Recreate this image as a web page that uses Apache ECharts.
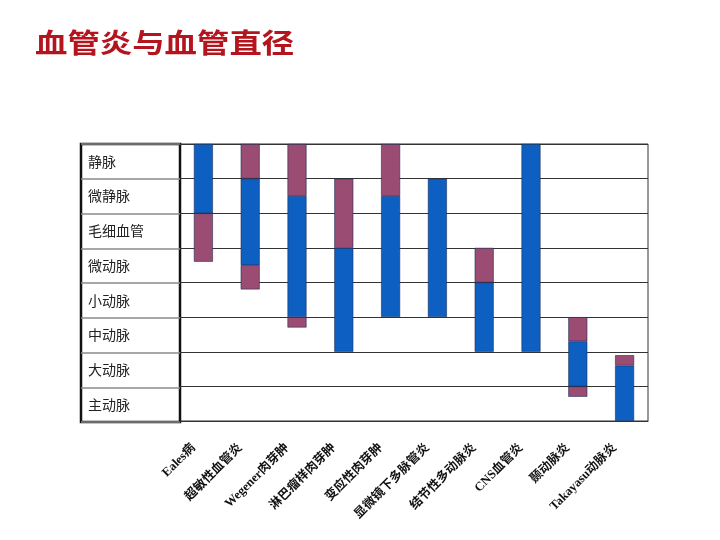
<!DOCTYPE html>
<html>
<head>
<meta charset="utf-8">
<script src="https://cdn.jsdelivr.net/npm/echarts@6/dist/echarts.min.js"></script>
<style>html,body{margin:0;padding:0;background:#fff}#c{width:720px;height:540px}</style>
</head>
<body>
<div id="c"></div>
<script>
const titleText = '血管炎与血管直径';
const categories = ['Eales病','超敏性血管炎','Wegener肉芽肿','淋巴瘤样肉芽肿','变应性肉芽肿','显微镜下多脉管炎','结节性多动脉炎','CNS血管炎','颞动脉炎','Takayasu动脉炎'];
const vesselLabels = ['主动脉','大动脉','中动脉','小动脉','微动脉','毛细血管','微静脉','静脉'];
// vessel level scale: 0 = bottom of 主动脉, 8 = top of 静脉
const purpleBelowLow = [4.6, 3.8, 2.7, 2, 3, 3, 2, 2, 0.7, 0];
const blueLow        = [6,   4.5, 3,   2, 3, 3, 2, 2, 1,   0];
const blueHigh       = [8,   7,   6.5, 5, 6.5, 7, 4, 8, 2.3, 1.6];
const purpleAboveHigh= [8,   8,   8,   7, 8,   7, 5, 8, 3,   1.9];

const BLUE = '#0d60c2', PURPLE = '#9a4c72';
const len = (a, b) => a.map((v, i) => { const d = +(b[i] - v).toFixed(3); return d > 0 ? d : '-'; });
const baseVals = purpleBelowLow.slice();
const belowVals = len(purpleBelowLow, blueLow);
const blueVals = len(blueLow, blueHigh);
const aboveVals = len(blueHigh, purpleAboveHigh);

const chart = echarts.init(document.getElementById('c'));
const segStyle = c => ({ color: c, borderColor: '#1e2d55', borderWidth: 0.6 });
chart.setOption({
  animation: false,
  backgroundColor: '#fff',
  graphic: [{
    type: 'text', left: 35, top: 29, scaleX: 1.2,
    style: {
      text: titleText, fill: '#b3141d',
      font: 'bold 27px "Noto Sans CJK SC"',
      shadowColor: 'rgba(0,0,0,0.35)', shadowOffsetX: 2, shadowOffsetY: 2, shadowBlur: 3
    }
  }],
  grid: [
    { left: 180, right: 72, top: 144, bottom: 119, show: true, borderColor: '#333', borderWidth: 1 },
    { left: 81, width: 99, top: 144, bottom: 118, show: true, borderColor: '#111', borderWidth: 2.5 }
  ],
  xAxis: [
    { type: 'category', gridIndex: 0, data: categories,
      axisLine: { lineStyle: { color: '#333' } },
      axisTick: { inside: true, length: 4, lineStyle: { color: '#333' } },
      axisLabel: { interval: 0, rotate: 45, margin: 15, padding: [0, 14, 0, 0], fontSize: 12.5, fontWeight: 'bold', color: '#111',
        fontFamily: '"Liberation Serif","Noto Sans CJK SC"' } },
    { type: 'value', gridIndex: 1, show: false }
  ],
  yAxis: [
    { type: 'value', gridIndex: 0, min: 0, max: 8, interval: 1,
      axisLabel: { show: false }, axisLine: { show: false }, axisTick: { show: false },
      splitLine: { lineStyle: { color: '#333', width: 1 } } },
    { type: 'category', gridIndex: 1, data: vesselLabels,
      axisLine: { show: false }, axisTick: { show: false },
      axisLabel: { inside: true, margin: 7, padding: [0, 0, 5, 0], fontSize: 14, color: '#222', fontFamily: '"Noto Sans CJK SC"' },
      splitLine: { show: true, lineStyle: { color: '#8a8a8a', width: 1.5 } } }
  ],
  series: [
    { type: 'bar', stack: 'v', barWidth: 19, data: baseVals, itemStyle: { color: 'transparent' }, silent: true },
    { type: 'bar', stack: 'v', data: belowVals, itemStyle: segStyle(PURPLE) },
    { type: 'bar', stack: 'v', data: blueVals, itemStyle: segStyle(BLUE) },
    { type: 'bar', stack: 'v', data: aboveVals, itemStyle: segStyle(PURPLE) }
  ]
});
</script>
</body>
</html>
